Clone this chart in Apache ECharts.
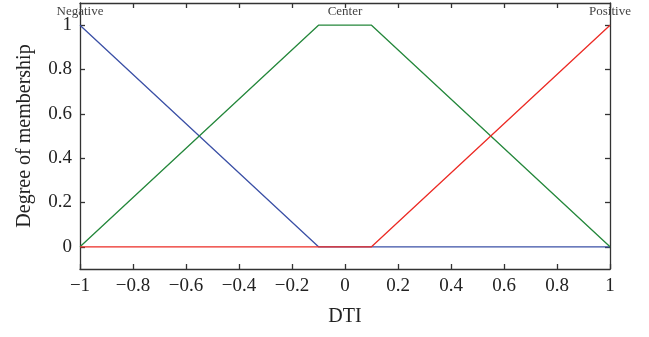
<!DOCTYPE html>
<html>
<head>
<meta charset="utf-8">
<script src="https://cdn.jsdelivr.net/npm/echarts@6/dist/echarts.min.js"></script>
<style>
  html, body { margin: 0; padding: 0; background: #fff; }
  #chart { width: 649px; height: 337px; }
</style>
</head>
<body>
<div id="chart"></div>
<script>
// Membership functions of the DTI fuzzy sets (breakpoints as [x, mu])
const negativeMF = [[-1, 1], [-0.1, 0], [1, 0]];
const centerMF = [[-1, 0], [-0.1, 1], [0.1, 1], [1, 0]];
const positiveMF = [[-1, 0], [0.1, 0], [1, 1]];

const setNames = ['Negative', 'Center', 'Positive'];
const setLabelX = [-1, 0, 1];

const yTicks = [0, 0.2, 0.4, 0.6, 0.8, 1];
const xTicks = [-1, -0.8, -0.6, -0.4, -0.2, 0, 0.2, 0.4, 0.6, 0.8, 1];

const serif = '"Liberation Serif", "DejaVu Serif", serif';

function fmt(v) {
  const r = Math.round(v * 10) / 10;
  const s = String(Math.abs(r));
  return (r < 0 ? '\u2212' : '') + s;
}

const chart = echarts.init(document.getElementById('chart'), null, { renderer: 'canvas' });

const axisLine = { show: true, onZero: false, lineStyle: { color: '#333', width: 1.3 } };
const tick = { show: true, inside: true, length: 5, lineStyle: { color: '#333', width: 1.3 } };

chart.setOption({
  animation: false,
  backgroundColor: '#fff',
  grid: { left: 80, right: 39, top: 3, bottom: 68, containLabel: false },
  xAxis: [
    {
      type: 'value', position: 'bottom', min: -1, max: 1,
      axisLine: axisLine, splitLine: { show: false },
      axisTick: Object.assign({ customValues: xTicks }, tick),
      axisLabel: { customValues: xTicks, formatter: fmt, color: '#222', fontFamily: serif, fontSize: 19, margin: 8 },
      name: 'DTI', nameLocation: 'middle', nameGap: 38,
      nameTextStyle: { color: '#222', fontFamily: serif, fontSize: 20 }
    },
    {
      type: 'value', position: 'top', min: -1, max: 1,
      axisLine: axisLine, splitLine: { show: false },
      axisTick: Object.assign({ customValues: xTicks }, tick),
      axisLabel: { show: false }
    }
  ],
  yAxis: [
    {
      type: 'value', position: 'left', min: -0.1, max: 1.1,
      axisLine: axisLine, splitLine: { show: false },
      axisTick: Object.assign({ customValues: yTicks }, tick),
      axisLabel: { customValues: yTicks, formatter: fmt, color: '#222', fontFamily: serif, fontSize: 19, margin: 8 },
      name: 'Degree of membership', nameLocation: 'middle', nameGap: 45,
      nameTextStyle: { color: '#222', fontFamily: serif, fontSize: 20 }
    },
    {
      type: 'value', position: 'right', min: -0.1, max: 1.1,
      axisLine: axisLine, splitLine: { show: false },
      axisTick: Object.assign({ customValues: yTicks }, tick),
      axisLabel: { show: false }
    }
  ],
  series: [
    { name: 'Negative', type: 'line', data: negativeMF, symbol: 'none', z: 2,
      lineStyle: { color: '#3b50a6', width: 1.3 } },
    { name: 'Center', type: 'line', data: centerMF, symbol: 'none', z: 3,
      lineStyle: { color: '#24873b', width: 1.3 } },
    { name: 'Positive', type: 'line', data: positiveMF, symbol: 'none', z: 4,
      lineStyle: { color: '#ec2b25', width: 1.3 } }
  ]
});

// Set names written just above the top of each membership function
const graphics = setNames.map(function (name, i) {
  const p = chart.convertToPixel({ xAxisIndex: 0, yAxisIndex: 0 }, [setLabelX[i], 1]);
  return {
    type: 'text', x: p[0], y: 12,
    style: { text: name, fill: '#444', font: '13px ' + serif, align: 'center', verticalAlign: 'middle' },
    z: 10
  };
});
chart.setOption({ graphic: graphics });
</script>
</body>
</html>
